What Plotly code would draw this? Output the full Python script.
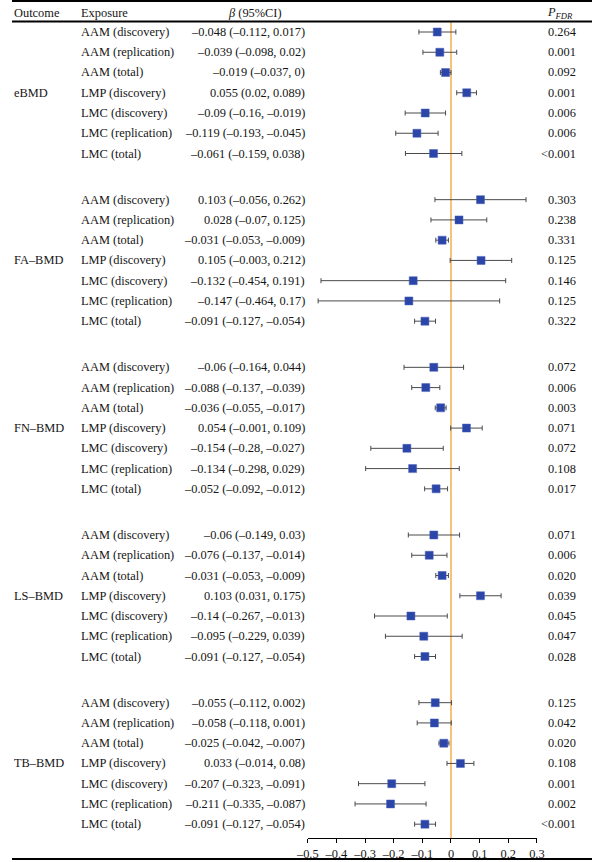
import plotly.graph_objects as go

outcomes = ["eBMD", "FA–BMD", "FN–BMD", "LS–BMD", "TB–BMD"]
exposures = ["AAM (discovery)", "AAM (replication)", "AAM (total)", "LMP (discovery)",
             "LMC (discovery)", "LMC (replication)", "LMC (total)"]

beta = [
    [-0.048, -0.039, -0.019, 0.055, -0.09, -0.119, -0.061],
    [0.103, 0.028, -0.031, 0.105, -0.132, -0.147, -0.091],
    [-0.06, -0.088, -0.036, 0.054, -0.154, -0.134, -0.052],
    [-0.06, -0.076, -0.031, 0.103, -0.14, -0.095, -0.091],
    [-0.055, -0.058, -0.025, 0.033, -0.207, -0.211, -0.091],
]
lower = [
    [-0.112, -0.098, -0.037, 0.02, -0.16, -0.193, -0.159],
    [-0.056, -0.07, -0.053, -0.003, -0.454, -0.464, -0.127],
    [-0.164, -0.137, -0.055, -0.001, -0.28, -0.298, -0.092],
    [-0.149, -0.137, -0.053, 0.031, -0.267, -0.229, -0.127],
    [-0.112, -0.118, -0.042, -0.014, -0.323, -0.335, -0.127],
]
upper = [
    [0.017, 0.02, 0.0, 0.089, -0.019, -0.045, 0.038],
    [0.262, 0.125, -0.009, 0.212, 0.191, 0.17, -0.054],
    [0.044, -0.039, -0.017, 0.109, -0.027, 0.029, -0.012],
    [0.03, -0.014, -0.009, 0.175, -0.013, 0.039, -0.054],
    [0.002, 0.001, -0.007, 0.08, -0.091, -0.087, -0.054],
]
p_fdr = [
    ["0.264", "0.001", "0.092", "0.001", "0.006", "0.006", "<0.001"],
    ["0.303", "0.238", "0.331", "0.125", "0.146", "0.125", "0.322"],
    ["0.072", "0.006", "0.003", "0.071", "0.072", "0.108", "0.017"],
    ["0.071", "0.006", "0.020", "0.039", "0.045", "0.047", "0.028"],
    ["0.125", "0.042", "0.020", "0.108", "0.001", "0.002", "<0.001"],
]
x_ticks = [-0.5, -0.4, -0.3, -0.2, -0.1, 0, 0.1, 0.2, 0.3]

FONT = "Liberation Serif"
FS = 12.4
TXT = "#151515"
W, H = 600, 862
ROW_PX = 20.25
GROUP_ROWS = 8.28
TOP_PX = 22
AXIS_PX = 838
FIRST_ROW_PX = 32


def fmt(v):
    return ("%g" % v).replace("-", "–")


ys, xs, lo_err, hi_err = [], [], [], []
ann = []
for g, out in enumerate(outcomes):
    for i, ex in enumerate(exposures):
        y = g * GROUP_ROWS + i
        b, l, u = beta[g][i], lower[g][i], upper[g][i]
        ys.append(y)
        xs.append(b)
        lo_err.append(b - l)
        hi_err.append(u - b)
        ann.append(dict(x=71 / W, y=y, text=ex, xanchor="left"))
        ann.append(dict(x=303 / W, y=y, text=f"{fmt(b)} ({fmt(l)}, {fmt(u)})", xanchor="right"))
        ann.append(dict(x=583 / W, y=y, text=p_fdr[g][i], xanchor="right"))
    ann.append(dict(x=2 / W, y=g * GROUP_ROWS + 3, text=out, xanchor="left"))

annotations = []
for a in ann:
    annotations.append(dict(xref="paper", yref="y", yanchor="middle", showarrow=False,
                            borderpad=0, borderwidth=0,
                            font=dict(family=FONT, size=FS, color=TXT), **a))

# header
hdr_y = 1 - 12.5 / H
for x, t, anc in [(2 / W, "Outcome", "left"), (71 / W, "Exposure", "left"),
                  (251 / W, "<i>β</i> (95%CI)", "center"),
                  (567 / W, "<i>P</i><sub><i>FDR</i></sub>", "center")]:
    annotations.append(dict(xref="paper", yref="paper", x=x, y=hdr_y, text=t, xanchor=anc,
                            yanchor="middle", showarrow=False, borderpad=0, borderwidth=0,
                            font=dict(family=FONT, size=FS, color=TXT)))

y_top = (TOP_PX - FIRST_ROW_PX) / ROW_PX
y_bot = (AXIS_PX - FIRST_ROW_PX) / ROW_PX

fig = go.Figure()
fig.add_trace(go.Scatter(
    x=xs, y=ys, mode="markers",
    marker=dict(symbol="square", size=8, color="#2B45A8",
                line=dict(color="#4a62b8", width=0.5)),
    error_x=dict(type="data", symmetric=False, array=hi_err, arrayminus=lo_err,
                 color="#4a4a4a", thickness=1, width=2.5),
    showlegend=False, hoverinfo="skip",
))

shapes = [
    dict(type="line", xref="x", yref="paper", x0=0, x1=0,
         y0=1 - AXIS_PX / H, y1=1 - TOP_PX / H, line=dict(color="#F3AE4E", width=1.5), layer="below"),
    dict(type="line", xref="paper", yref="paper", x0=0, x1=1, y0=1 - 1 / H, y1=1 - 1 / H,
         line=dict(color="black", width=2)),
    dict(type="line", xref="paper", yref="paper", x0=0, x1=1, y0=1 - 21.5 / H, y1=1 - 21.5 / H,
         line=dict(color="black", width=2)),
    dict(type="line", xref="paper", yref="paper", x0=0, x1=1, y0=1 - 859 / H, y1=1 - 859 / H,
         line=dict(color="black", width=2)),
]

fig.update_layout(
    width=W, height=H, margin=dict(l=0, r=0, t=0, b=0),
    paper_bgcolor="white", plot_bgcolor="white",
    annotations=annotations, shapes=shapes,
    xaxis=dict(range=[-0.5, 0.3], domain=[306 / W, 543 / W], tickvals=x_ticks,
               ticktext=[fmt(v) for v in x_ticks], showgrid=False, zeroline=False,
               showline=True, linecolor="black", linewidth=1, ticks="outside",
               ticklen=4, tickcolor="black", anchor="y",
               tickfont=dict(family=FONT, size=FS, color=TXT)),
    yaxis=dict(range=[y_bot, y_top], domain=[1 - AXIS_PX / H, 1 - TOP_PX / H],
               showgrid=False, zeroline=False, showticklabels=False, showline=False),
)

fig.write_html("out.html")
